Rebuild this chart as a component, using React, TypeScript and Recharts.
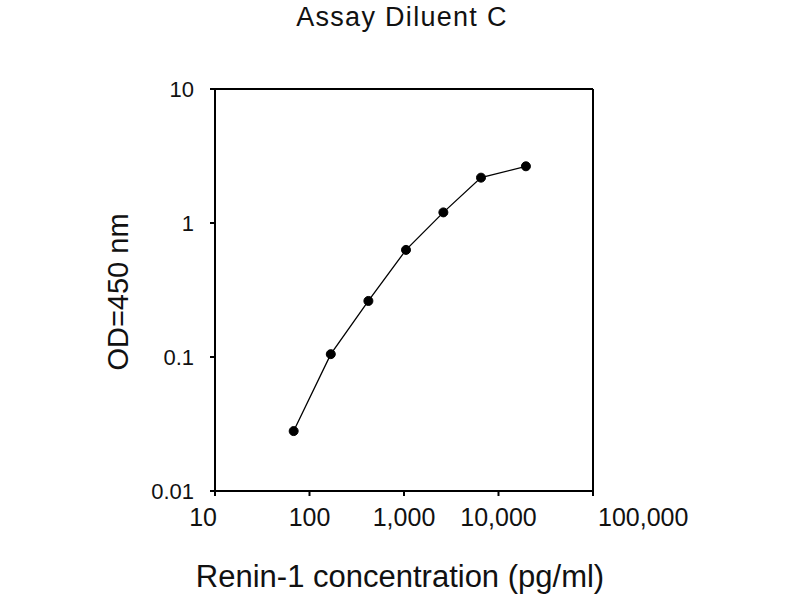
import { LineChart, Line, XAxis, YAxis, ReferenceLine } from "recharts";

const concentrations = [68, 168, 420, 1050, 2610, 6530, 19500];
const odValues = [0.028, 0.105, 0.262, 0.63, 1.2, 2.18, 2.65];
const xTicks = [10, 100, 1000, 10000, 100000];
const yTicks = [0.01, 0.1, 1, 10];

const data = concentrations.map((c, i) => ({ conc: c, od: odValues[i] }));

const font = "'Liberation Sans', Arial, sans-serif";

// first label sits left of its tick, last one right of it, like the original
function XTick(props: any) {
  const { x, y, payload, index } = props;
  const last = xTicks.length - 1;
  const anchor = index === 0 ? "end" : index === last ? "start" : "middle";
  const dx = index === 0 ? 2 : index === last ? 5 : 0;
  return (
    <text
      x={x + dx}
      y={y}
      dy="0.71em"
      textAnchor={anchor}
      fill="#111"
      fontSize={25}
      fontFamily={font}
    >
      {Number(payload.value).toLocaleString("en-US")}
    </text>
  );
}

export default function App() {
  return (
    <div
      style={{
        position: "absolute",
        left: 0,
        top: 0,
        width: 800,
        height: 600,
        background: "#fff",
        fontFamily: font,
        color: "#111",
      }}
    >
      <div
        style={{
          position: "absolute",
          top: 0,
          left: 202,
          width: 400,
          height: 34,
          lineHeight: "34px",
          textAlign: "center",
          fontSize: 27,
          letterSpacing: 1.3,
        }}
      >
        Assay Diluent C
      </div>
      <div
        style={{
          position: "absolute",
          left: 118 - 110,
          top: 292 - 16,
          width: 220,
          height: 32,
          lineHeight: "32px",
          textAlign: "center",
          fontSize: 29,
          transform: "rotate(-90deg)",
        }}
      >
        OD=450 nm
      </div>
      <div
        style={{
          position: "absolute",
          left: 100,
          top: 559,
          width: 600,
          textAlign: "center",
          fontSize: 31,
        }}
      >
        Renin-1 concentration (pg/ml)
      </div>
      <LineChart
        width={800}
        height={600}
        data={data}
        margin={{ top: 89, right: 207, left: 155, bottom: 69 }}
      >
        <XAxis
          dataKey="conc"
          type="number"
          scale="log"
          domain={[10, 100000]}
          ticks={xTicks}
          allowDataOverflow
          height={40}
          stroke="#000"
          strokeWidth={2}
          tickSize={5}
          tickMargin={12}
          tick={<XTick />}
        />
        <YAxis
          dataKey="od"
          type="number"
          scale="log"
          domain={[0.01, 10]}
          ticks={yTicks}
          allowDataOverflow
          width={60}
          stroke="#000"
          strokeWidth={2}
          tickSize={5}
          tickMargin={16}
          tick={{ fill: "#111", fontSize: 22, fontFamily: font }}
          tickFormatter={(v) => String(v)}
        />
        <ReferenceLine y={10} stroke="#000" strokeWidth={2} />
        <ReferenceLine x={100000} stroke="#000" strokeWidth={2} />
        <Line
          dataKey="od"
          stroke="#000"
          strokeWidth={1.3}
          dot={{ r: 4.5, fill: "#000", stroke: "#000", strokeWidth: 1 }}
          isAnimationActive={false}
        />
      </LineChart>
    </div>
  );
}
